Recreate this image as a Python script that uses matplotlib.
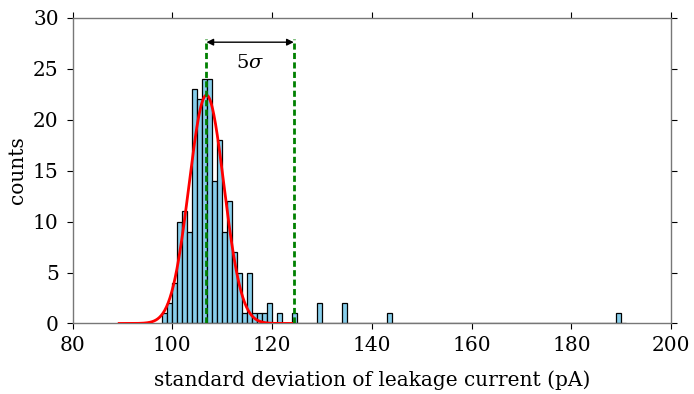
import numpy as np
import matplotlib
matplotlib.use("Agg")
import matplotlib.pyplot as plt

# histogram of std. dev. of leakage current, 1 pA bins
first_bin = 98
main_counts = [1, 2, 4, 10, 11, 9, 23, 22, 24, 24, 14, 18, 9, 12, 7,
               5, 1, 5, 1, 1, 1, 2, 0, 1, 0, 0, 1]   # bins 98..124
outlier_bins = [129, 134, 143, 189]
outlier_counts = [2, 2, 1, 1]
last_bin = 190

# gaussian fit
fit_mean = 106.85
fit_sigma = 3.5
fit_amp = 22.4

bins = np.arange(first_bin, last_bin + 1)
counts = np.zeros(len(bins))
counts[:len(main_counts)] = main_counts
for b, c in zip(outlier_bins, outlier_counts):
    counts[b - first_bin] = c

plt.rcParams['font.family'] = ['DejaVu Serif']
plt.rcParams['mathtext.fontset'] = 'dejavuserif'

fig = plt.figure(figsize=(6.94, 3.94), dpi=100)
ax = fig.add_axes([0.1045, 0.179, 0.8625, 0.776])

ax.bar(bins, counts, width=1, align='edge', color='skyblue',
       edgecolor='black', linewidth=0.9, zorder=2)

xg = np.linspace(fit_mean - 5 * fit_sigma, fit_mean + 5 * fit_sigma, 300)
yg = fit_amp * np.exp(-0.5 * ((xg - fit_mean) / fit_sigma) ** 2)
ax.plot(xg, yg, color='red', lw=2, zorder=3)

x5 = fit_mean + 5 * fit_sigma
for xv in (fit_mean, x5):
    ax.plot([xv, xv], [0, 27.9], color='green', lw=2, ls=(0, (2.2, 1.2)), zorder=4)
ax.annotate('', xy=(x5, 27.6), xytext=(fit_mean, 27.6),
            arrowprops=dict(arrowstyle='<|-|>', color='black', lw=1,
                            mutation_scale=10, shrinkA=0, shrinkB=0))
ax.text((fit_mean + x5) / 2, 25.6, r'5$\sigma$', ha='center', va='center', fontsize=14)

ax.set_xlim(80, 200)
ax.set_ylim(0, 30)
ax.set_xticks(np.arange(80, 201, 20))
ax.set_yticks(np.arange(0, 31, 5))
ax.tick_params(direction='out', length=4, width=0.8, labelsize=14.5,
               top=True, right=True)
ax.tick_params(axis='x', pad=5)
ax.tick_params(axis='y', pad=6)
for s in ax.spines.values():
    s.set_color('#777777')
    s.set_linewidth(1)
ax.set_xlabel('standard deviation of leakage current (pA)', fontsize=14.5, labelpad=11)
ax.set_ylabel('counts', fontsize=14.5, labelpad=4)

fig.savefig('out.png', dpi=100)
